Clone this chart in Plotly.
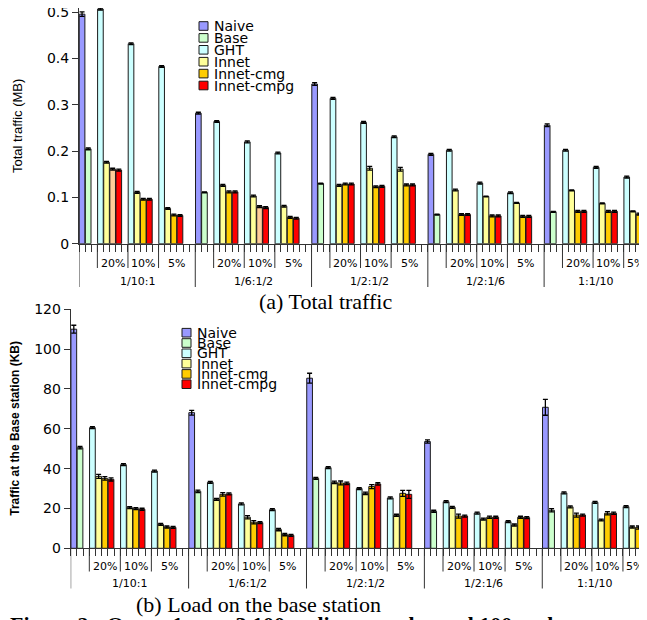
import plotly.graph_objects as go

# ---------------- data ----------------
groups = ["1/10:1", "1/6:1/2", "1/2:1/2", "1/2:1/6", "1:1/10"]
subgroups = ["20%", "10%", "5%"]
series = ["Naive", "Base", "GHT", "Innet", "Innet-cmg", "Innet-cmpg"]

# (a) Total traffic (MB); sub-series ordered group by group: 20%, 10%, 5%
tot_naive = [0.496, 0.282, 0.345, 0.193, 0.256]
tot_base = [0.205, 0.111, 0.130, 0.063, 0.069]
tot_ght = [0.507, 0.432, 0.383, 0.264, 0.220, 0.196, 0.314, 0.262, 0.231,
           0.202, 0.131, 0.110, 0.202, 0.165, 0.144]
tot_innet = [0.176, 0.111, 0.076, 0.126, 0.103, 0.081, 0.126, 0.163, 0.161,
             0.116, 0.102, 0.088, 0.115, 0.087, 0.070]
tot_cmg = [0.161, 0.096, 0.062, 0.112, 0.080, 0.057, 0.129, 0.123, 0.127,
           0.063, 0.060, 0.059, 0.070, 0.070, 0.064]
tot_cmpg = [0.159, 0.096, 0.061, 0.112, 0.078, 0.055, 0.129, 0.124, 0.127,
            0.063, 0.060, 0.059, 0.070, 0.070, 0.065]
tot_naive_err = [0.005, 0.002, 0.003, 0.002, 0.003]
tot_base_err = [0.002, 0.001, 0.001, 0.001, 0.001]
tot_ght_err = [0.002] * 15
tot_innet_err = [0.002, 0.002, 0.002, 0.002, 0.002, 0.002, 0.002, 0.004, 0.004,
                 0.002, 0.001, 0.001, 0.001, 0.001, 0.001]
tot_cmg_err = [0.002] * 15
tot_cmpg_err = [0.002] * 15

# (b) Traffic at the base station (KB)
bs_naive = [110.0, 68.1, 85.4, 53.6, 70.8]
bs_base = [50.5, 28.6, 35.1, 18.6, 19.1]
bs_ght = [60.6, 42.0, 38.8, 33.1, 22.3, 19.4, 40.5, 30.0, 25.3,
          23.4, 17.7, 13.4, 27.8, 23.1, 20.9]
bs_innet = [36.1, 20.4, 12.0, 24.6, 15.6, 9.4, 33.1, 27.6, 16.6,
            20.6, 14.7, 11.7, 20.8, 14.2, 10.7]
bs_cmg = [35.1, 19.9, 10.7, 27.1, 13.1, 6.9, 32.8, 31.0, 27.6,
          16.2, 15.6, 15.6, 16.7, 17.6, 10.4]
bs_cmpg = [34.6, 19.6, 10.5, 27.3, 12.9, 6.5, 32.6, 32.3, 27.1,
           16.2, 15.6, 15.4, 16.7, 17.6, 10.7]
bs_naive_err = [2.0, 1.2, 2.5, 0.8, 4.0]
bs_base_err = [0.6, 0.6, 0.5, 0.5, 0.8]
bs_ght_err = [0.5] * 15
bs_innet_err = [1.0, 0.5, 0.5, 0.5, 0.8, 0.6, 0.6, 0.6, 0.5,
                0.5, 0.5, 0.5, 0.5, 0.4, 0.5]
bs_cmg_err = [0.9, 0.5, 0.5, 0.9, 0.8, 0.6, 1.0, 1.0, 1.5,
              1.0, 0.6, 0.5, 1.0, 0.8, 0.8]
bs_cmpg_err = [0.8, 0.5, 0.5, 0.5, 0.5, 0.5, 0.6, 0.6, 2.0,
               0.5, 0.5, 0.5, 0.5, 0.6, 0.5]

# ---------------- styles ----------------
colors = {"Naive": "#9999FF", "Base": "#CCFFCC", "GHT": "#CCFFFF",
          "Innet": "#FFFF99", "Innet-cmg": "#FFCC00", "Innet-cmpg": "#FF0000"}
PEACH = "#FFCC99"
tot_cmg_colors = [PEACH if i in (0, 4) else colors["Innet-cmg"] for i in range(15)]

# the page body has an 8px margin: figure is sized to fill the rest of the window
PAGE_OFF = 8
SCREEN_W, SCREEN_H = 647, 620
W, H = SCREEN_W - PAGE_OFF, SCREEN_H - PAGE_OFF
SLOTS = 19              # slots per major group
SUB_START = [3, 8, 13]  # first slot of each percentage subgroup
SUB_END = [8, 13, 19]
FONT = "DejaVu Sans"
LINE = "#333333"


def px_x(p):
    return (p - PAGE_OFF) / W


def px_y(p):
    return 1 - (p - PAGE_OFF) / H


def pos_single(offset):
    return [g * SLOTS + offset + 0.5 for g in range(len(groups))]


def pos_sub(k):
    return [g * SLOTS + s + k + 0.5 for g in range(len(groups)) for s in SUB_START]


panels = [
    dict(xa="x", ya="y", x0px=79, slot=6.12, axis_px=243.7, top_px=8,
         ymax=0.5093, ticks=[0, 0.1, 0.2, 0.3, 0.4, 0.5],
         short_px=268, long_px=287, sub_lab_px=263.5, grp_lab_px=281,
         legend=dict(x=199, y0=26, dy=11.9, tx=212),
         data=[tot_naive, tot_base, tot_ght, tot_innet, tot_cmg, tot_cmpg],
         err=[tot_naive_err, tot_base_err, tot_ght_err, tot_innet_err, tot_cmg_err, tot_cmpg_err],
         cmg_colors=tot_cmg_colors,
         title="Total traffic (MB)", standoff=21),
    dict(xa="x2", ya="y2", x0px=70.7, slot=6.205, axis_px=548.3, top_px=308.5,
         ymax=120.4, ticks=[0, 20, 40, 60, 80, 100, 120],
         short_px=571.5, long_px=588.5, sub_lab_px=566.5, grp_lab_px=583.5,
         legend=dict(x=182, y0=332.7, dy=10.3, tx=195),
         data=[bs_naive, bs_base, bs_ght, bs_innet, bs_cmg, bs_cmpg],
         err=[bs_naive_err, bs_base_err, bs_ght_err, bs_innet_err, bs_cmg_err, bs_cmpg_err],
         cmg_colors=[colors["Innet-cmg"]] * 15,
         title="<b>Traffic at the Base station (KB)</b>", standoff=12),
]

fig = go.Figure()
shapes = []
annotations = []

for pi, P in enumerate(panels):
    xs = [pos_single(0), pos_single(1), pos_sub(0), pos_sub(1), pos_sub(2), pos_sub(3)]
    for si, name in enumerate(series):
        col = colors[name]
        if name == "Innet-cmg":
            col = P["cmg_colors"]
        fig.add_trace(go.Bar(
            x=xs[si], y=P["data"][si], name=name, width=0.92,
            xaxis=P["xa"], yaxis=P["ya"],
            marker=dict(color=col, line=dict(color="#1a1a1a", width=1)),
            error_y=dict(type="data", array=P["err"][si], color="black",
                         thickness=1.3, width=2.5),
            showlegend=False,
        ))

    xmax = (SCREEN_W - P["x0px"]) / P["slot"]
    sfx = "" if pi == 0 else "2"
    fig.layout["xaxis" + sfx] = dict(
        domain=[px_x(P["x0px"]), 1], range=[0, xmax], anchor="y" + sfx,
        automargin=False,
        tickvals=list(range(0, SLOTS * len(groups) + 1)), ticks="outside",
        ticklen=7, tickcolor=LINE, tickwidth=1, showticklabels=False,
        showline=True, linecolor=LINE, linewidth=1, showgrid=False, zeroline=False,
    )
    fig.layout["yaxis" + sfx] = dict(
        domain=[px_y(P["axis_px"]), px_y(P["top_px"])], range=[0, P["ymax"]],
        anchor="x" + sfx, automargin=False, tickvals=P["ticks"], ticks="outside", ticklen=6,
        tickcolor=LINE, showline=True, linecolor=LINE, linewidth=1,
        showgrid=False, zeroline=False, ticklabeloverflow="allow",
        tickfont=dict(family=FONT, size=14, color="black"),
        title=dict(text=P["title"], standoff=P["standoff"],
                   font=dict(family="Liberation Sans", size=13 if pi == 0 else 12,
                             color="black")),
    )

    # category separators and labels
    for g, gname in enumerate(groups):
        base = g * SLOTS
        shapes.append(dict(type="line", xref=P["xa"], yref="paper", x0=base, x1=base,
                           y0=px_y(P["axis_px"]), y1=px_y(P["long_px"]),
                           line=dict(color=LINE, width=1)))
        for k, sname in enumerate(subgroups):
            s0 = base + SUB_START[k]
            s1 = min(base + SUB_END[k], xmax)
            if s0 >= xmax:
                continue
            shapes.append(dict(type="line", xref=P["xa"], yref="paper", x0=s0, x1=s0,
                               y0=px_y(P["axis_px"]), y1=px_y(P["short_px"]),
                               line=dict(color=LINE, width=1)))
            annotations.append(dict(text=sname, xref=P["xa"], yref="paper",
                                    x=(s0 + s1) / 2, y=px_y(P["sub_lab_px"]),
                                    showarrow=False, xanchor="center", yanchor="middle",
                                    font=dict(family=FONT, size=11, color="black")))
        g1 = min(base + SLOTS, xmax)
        annotations.append(dict(text=gname, xref=P["xa"], yref="paper",
                                x=(base + g1) / 2, y=px_y(P["grp_lab_px"]),
                                showarrow=False, xanchor="center", yanchor="middle",
                                font=dict(family=FONT, size=11, color="black")))

    # compact legend
    L = P["legend"]
    for si, name in enumerate(series):
        yc = L["y0"] + L["dy"] * si
        shapes.append(dict(type="rect", xref="paper", yref="paper",
                           x0=px_x(L["x"]), x1=px_x(L["x"] + 9),
                           y0=px_y(yc + 4.3), y1=px_y(yc - 4.3),
                           fillcolor=colors[name], line=dict(color="#1a1a1a", width=1)))
        annotations.append(dict(text=name, xref="paper", yref="paper",
                                x=px_x(L["tx"]), y=px_y(yc), showarrow=False,
                                xanchor="left", yanchor="middle",
                                font=dict(family=FONT, size=14, color="black")))

# captions
annotations.append(dict(text="(a) Total traffic", xref="paper", yref="paper",
                        x=px_x(325), y=px_y(301), showarrow=False,
                        xanchor="center", yanchor="middle",
                        font=dict(family="Liberation Serif", size=22, color="black")))
annotations.append(dict(text="(b) Load on the base station", xref="paper", yref="paper",
                        x=px_x(258), y=px_y(604), showarrow=False,
                        xanchor="center", yanchor="middle",
                        font=dict(family="Liberation Serif", size=22, color="black")))
annotations.append(dict(text="<b>Figure 2:  Query 1,  n = 3,100 ordinary nodes and 100 nodes</b>",
                        xref="paper", yref="paper", x=0, y=px_y(610), showarrow=False,
                        xanchor="left", yanchor="top",
                        font=dict(family="Liberation Serif", size=22, color="black")))

fig.update_layout(
    width=W, height=H, margin=dict(l=0, r=0, t=0, b=0, autoexpand=False),
    plot_bgcolor="white", paper_bgcolor="white",
    barmode="overlay", showlegend=False,
    shapes=shapes, annotations=annotations,
)

fig.write_html("out.html")
